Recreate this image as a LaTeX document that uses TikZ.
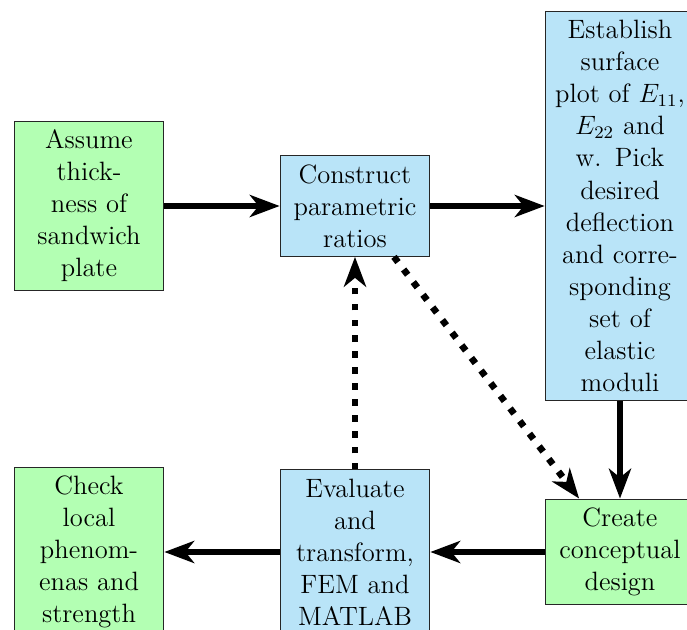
\documentclass[tikz,border=0pt]{standalone}
\usetikzlibrary{arrows.meta}
\definecolor{boxgreen}{RGB}{179,255,179}
\definecolor{boxblue}{RGB}{185,228,248}
\tikzset{
  flowbox/.style={draw=black!85, line width=0.45pt, text width=2.1cm,
    align=center, inner sep=4pt, font=\fontsize{12}{14.5}\selectfont},
  greenbox/.style={flowbox, fill=boxgreen},
  bluebox/.style={flowbox, fill=boxblue},
  link/.style={line width=3pt,
    -{Stealth[length=13.5pt, width=10pt, inset=4pt]}},
  dottedlink/.style={link, dash pattern=on 3pt off 4.2pt},
}
\begin{document}
\begin{tikzpicture}[x=0.4525pt, y=-0.4525pt]
\useasboundingbox (0,0) rectangle (687,630);

% upper row
\node[greenbox] (assume) at (89,206) {Assume\\thick-\\ness of\\sandwich\\plate};
\node[bluebox] (construct) at (355,206) {Construct\\parametric\\ratios};
\node[bluebox] (establish) at (620,206) {Establish\\surface\\plot of $E_{11}$,\\$E_{22}$ and\\w. Pick\\desired\\deflection\\and corre-\\sponding\\set of\\elastic\\moduli};

% lower row
\node[greenbox] (check) at (89,552) {Check\\local\\phenom-\\enas and\\strength};
\node[bluebox] (evaluate) at (355,552) {Evaluate\\and\\transform,\\FEM and\\MATLAB};
\node[greenbox] (create) at (620,552) {Create\\conceptual\\design};

% connectors
\draw[link] (assume) -- (construct);
\draw[link] (construct) -- (establish);
\draw[link] (establish) -- (create);
\draw[link] (create) -- (evaluate);
\draw[link] (evaluate) -- (check);
\draw[dottedlink] (evaluate) -- (construct);
\draw[dottedlink] (construct) -- (create);
\end{tikzpicture}
\end{document}
